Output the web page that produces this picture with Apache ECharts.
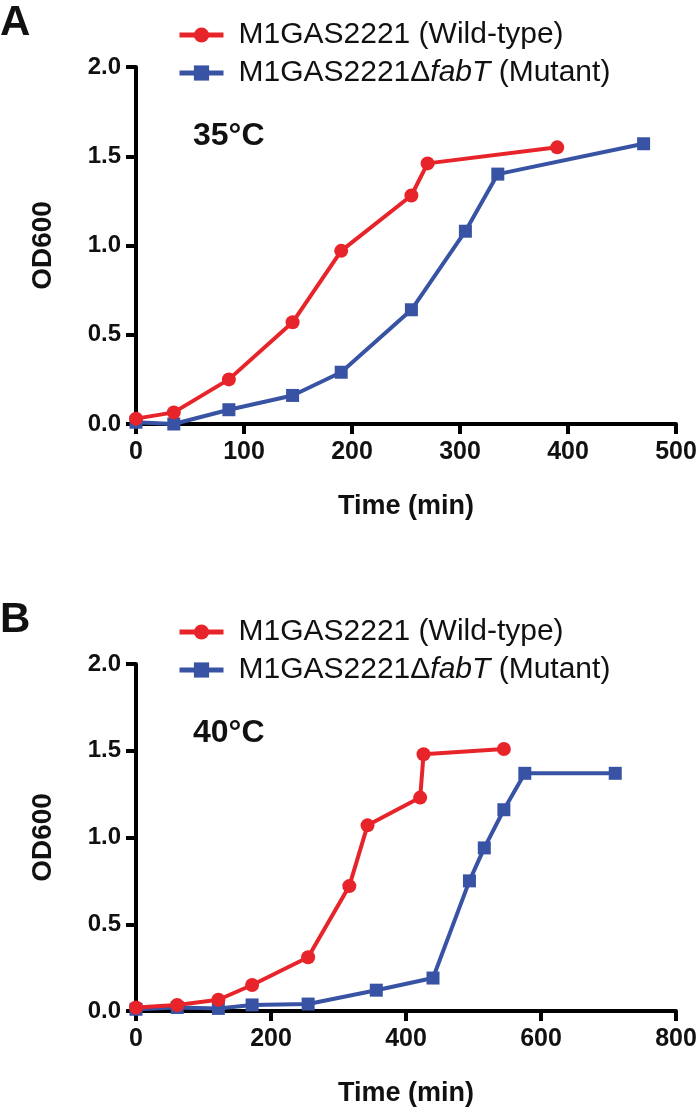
<!DOCTYPE html>
<html><head><meta charset="utf-8">
<script src="https://cdn.jsdelivr.net/npm/echarts@6/dist/echarts.min.js"></script>
<style>html,body{margin:0;padding:0;background:#fff}#c{width:700px;height:1108px}</style>
</head><body><div id="c"></div>
<script>
// Panel A (35°C)
const wt35Time = [0, 35, 86, 145, 190, 255, 270, 390];
const wt35OD   = [0.03, 0.065, 0.25, 0.57, 0.97, 1.28, 1.46, 1.55];
const mut35Time = [0, 35, 86, 145, 190, 255, 305, 335, 470];
const mut35OD   = [0.01, 0.0, 0.08, 0.16, 0.29, 0.64, 1.08, 1.40, 1.57];
// Panel B (40°C)
const wt40Time = [0, 61, 122, 172, 255, 316, 343, 421, 426, 545];
const wt40OD   = [0.02, 0.035, 0.065, 0.15, 0.31, 0.72, 1.07, 1.23, 1.48, 1.51];
const mut40Time = [0, 61, 122, 172, 255, 356, 440, 494, 516, 545, 576, 710];
const mut40OD   = [0.01, 0.02, 0.015, 0.035, 0.04, 0.12, 0.19, 0.75, 0.94, 1.16, 1.37, 1.37];

const yTicks = [0, 0.5, 1.0, 1.5, 2.0];
const xMaxA = 500, xIntA = 100;
const xMaxB = 800, xIntB = 200;

const WT = 'M1GAS2221 (Wild-type)';
const MUT = 'M1GAS2221ΔfabT (Mutant)';
const RED = '#e8242b', BLUE = '#3953a4';

const pair = (t, v) => t.map((x, i) => [x, v[i]]);

const F = 'Liberation Sans';
function xAxis(idx, max, interval) {
  return {
    gridIndex: idx, type: 'value', min: 0, max: max, interval: interval,
    name: 'Time (min)', nameLocation: 'middle', nameGap: 69,
    nameTextStyle: {fontFamily: F, fontWeight: 'bold', fontSize: 27, color: '#111'},
    axisLine: {lineStyle: {color: '#000', width: 4}},
    axisTick: {length: 10, lineStyle: {color: '#000', width: 4}},
    axisLabel: {fontFamily: F, fontWeight: 'bold', fontSize: 25, color: '#111', margin: 16},
    splitLine: {show: false}
  };
}
function yAxis(idx) {
  return {
    gridIndex: idx, type: 'value', min: yTicks[0], max: yTicks[yTicks.length - 1], interval: 0.5,
    name: 'OD600', nameLocation: 'middle', nameGap: 79,
    nameTextStyle: {fontFamily: F, fontWeight: 'bold', fontSize: 28, color: '#111'},
    axisLine: {lineStyle: {color: '#000', width: 4}},
    axisTick: {length: 10, lineStyle: {color: '#000', width: 4}},
    axisLabel: {fontFamily: F, fontWeight: 'bold', fontSize: 24, color: '#111', margin: 15,
      formatter: v => v.toFixed(1)},
    splitLine: {show: false}
  };
}
function series(name, data, idx, color, symbol, z) {
  return {
    name: name, type: 'line', xAxisIndex: idx, yAxisIndex: idx, data: data,
    symbol: symbol, symbolSize: symbol === 'circle' ? 14 : 13, z: z,
    lineStyle: {color: color, width: 4}, itemStyle: {color: color},
    emphasis: {disabled: true}, animation: false
  };
}
function legend(top) {
  return {
    left: 177, top: top, padding: 0, orient: 'vertical', itemGap: 8, itemWidth: 44, itemHeight: 19,
    data: [WT, MUT], selectedMode: false,
    lineStyle: {width: 5},
    textStyle: {fontFamily: F, fontSize: 30, color: '#111',
      rich: {n: {fontFamily: F, fontSize: 30, color: '#111'},
             p: {fontFamily: F, fontSize: 30, color: '#111', padding: [0, 0, 0, 10]},
             i: {fontFamily: F, fontSize: 30, color: '#111', fontStyle: 'italic'}}},
    formatter: name => name === MUT ? '{p|M1GAS2221Δ}{i|fabT}{n| (Mutant)}' : '{p|' + name + '}'
  };
}

const chart = echarts.init(document.getElementById('c'), null, {renderer: 'canvas'});
chart.setOption({
  backgroundColor: '#fff',
  animation: false,
  grid: [
    {left: 136, right: 24, top: 67, height: 357},
    {left: 136, right: 24, top: 664, height: 357}
  ],
  xAxis: [xAxis(0, xMaxA, xIntA), xAxis(1, xMaxB, xIntB)],
  yAxis: [yAxis(0), yAxis(1)],
  legend: [legend(20), legend(617)],
  title: [
    {text: 'A', left: 0, top: 2, padding: 0, textStyle: {fontFamily: F, fontWeight: 'bold', fontSize: 42, color: '#111'}},
    {text: 'B', left: 0, top: 599, padding: 0, textStyle: {fontFamily: F, fontWeight: 'bold', fontSize: 42, color: '#111'}},
    {text: '35°C', left: 188, top: 115, textStyle: {fontFamily: F, fontWeight: 'bold', fontSize: 32, color: '#111'}},
    {text: '40°C', left: 188, top: 712, textStyle: {fontFamily: F, fontWeight: 'bold', fontSize: 32, color: '#111'}}
  ],
  series: [
    series(MUT, pair(mut35Time, mut35OD), 0, BLUE, 'rect', 2),
    series(WT, pair(wt35Time, wt35OD), 0, RED, 'circle', 3),
    series(MUT, pair(mut40Time, mut40OD), 1, BLUE, 'rect', 2),
    series(WT, pair(wt40Time, wt40OD), 1, RED, 'circle', 3)
  ]
});
</script></body></html>
